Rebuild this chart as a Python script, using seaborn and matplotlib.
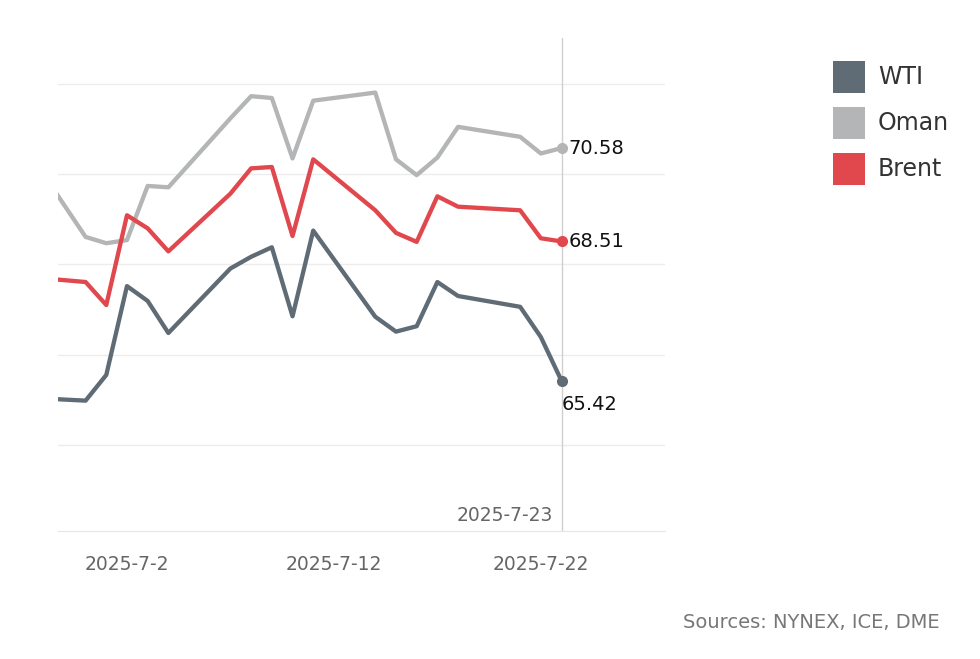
import matplotlib
matplotlib.use("Agg")
import matplotlib.pyplot as plt
import matplotlib.dates as mdates
from matplotlib.patches import Patch
from matplotlib.ticker import FuncFormatter
import pandas as pd
import seaborn as sns

dates = ["2025-06-27", "2025-06-30", "2025-07-01", "2025-07-02", "2025-07-03",
         "2025-07-04", "2025-07-07", "2025-07-08", "2025-07-09", "2025-07-10",
         "2025-07-11", "2025-07-14", "2025-07-15", "2025-07-16", "2025-07-17",
         "2025-07-18", "2025-07-21", "2025-07-22", "2025-07-23"]
wti = [65.05, 64.98, 65.55, 67.52, 67.19, 66.48, 67.91, 68.17, 68.38, 66.85,
       68.75, 66.84, 66.51, 66.63, 67.61, 67.30, 67.06, 66.39, 65.42]
oman = [70.66, 68.61, 68.47, 68.54, 69.74, 69.71, 71.24, 71.73, 71.69, 70.35,
        71.63, 71.81, 70.33, 69.98, 70.37, 71.05, 70.83, 70.46, 70.58]
brent = [67.73, 67.61, 67.10, 69.09, 68.80, 68.29, 69.57, 70.13, 70.16, 68.63,
         70.33, 69.20, 68.70, 68.50, 69.51, 69.28, 69.20, 68.58, 68.51]
series = ["WTI", "Oman", "Brent"]
colors = {"WTI": "#5f6b75", "Oman": "#b3b5b6", "Brent": "#e0484e"}

df = pd.DataFrame({"date": pd.to_datetime(dates), "WTI": wti, "Oman": oman, "Brent": brent})
long = df.melt(id_vars="date", value_vars=series, var_name="crude", value_name="price")

sns.set_style("white")
plt.rcParams["font.family"] = ["DejaVu Sans"]

fig = plt.figure(figsize=(9.8, 6.59), dpi=100)
ax = fig.add_axes([58 / 980, 1 - 531 / 659, (665 - 58) / 980, (531 - 38) / 659])

sns.lineplot(data=long, x="date", y="price", hue="crude", hue_order=series,
             palette=colors, linewidth=3.1, legend=False, ax=ax, zorder=3)

last = df.iloc[-1]
for name in series:
    ax.plot(last["date"], last[name], "o", color=colors[name], markersize=7, zorder=4)
ax.annotate(f"{last['Oman']:.2f}", (last["date"], last["Oman"]), xytext=(5, 0),
            textcoords="offset points", va="center", ha="left", fontsize=14, color="#111111")
ax.annotate(f"{last['Brent']:.2f}", (last["date"], last["Brent"]), xytext=(5, 0),
            textcoords="offset points", va="center", ha="left", fontsize=14, color="#111111")
ax.annotate(f"{last['WTI']:.2f}", (last["date"], last["WTI"]), xytext=(0, -17),
            textcoords="offset points", va="center", ha="left", fontsize=14, color="#111111")

ax.axvline(last["date"], color="#cfcfcf", lw=1, zorder=2)
ax.annotate("2025-7-23", (last["date"], 62.09), xytext=(-6, 11), textcoords="offset points",
            ha="right", va="center", fontsize=13.5, color="#666666")

ax.set_xlim(pd.Timestamp("2025-06-28 16:00"), pd.Timestamp("2025-07-28 00:00"))
ax.set_ylim(62.09, 73.02)
ax.set_yticks([64, 66, 68, 70, 72])
ax.yaxis.grid(True, color="#ececec", lw=1)
ax.tick_params(axis="y", left=False, labelleft=False)

ax.xaxis.set_major_locator(mdates.DayLocator(bymonthday=[2, 12, 22]))
ax.xaxis.set_minor_locator(mdates.DayLocator())
ax.xaxis.set_major_formatter(FuncFormatter(
    lambda v, p: (lambda d: f"{d.year}-{d.month}-{d.day}")(mdates.num2date(v))))
ax.tick_params(axis="x", which="major", length=7, color="#e3e3e3", labelsize=13.5,
               labelcolor="#666666", pad=10)
ax.tick_params(axis="x", which="minor", length=4, color="#e3e3e3")
ax.set_xlabel("")
ax.set_ylabel("")
for s in ["top", "right", "left"]:
    ax.spines[s].set_visible(False)
ax.spines["bottom"].set_color("#e6e6e6")

handles = [Patch(facecolor=colors[n], edgecolor="none") for n in series]
fig.legend(handles, series, loc="upper left", bbox_to_anchor=(821 / 980, 1 - 49 / 659),
           frameon=False, fontsize=17, handlelength=1.36, handleheight=1.71,
           labelspacing=0.59, handletextpad=0.55, borderpad=0, labelcolor="#333333")

fig.text(940 / 980, 1 - 622 / 659, "Sources: NYNEX, ICE, DME", ha="right", va="center",
         fontsize=14, color="#777777")

fig.savefig("out.png", dpi=100)
